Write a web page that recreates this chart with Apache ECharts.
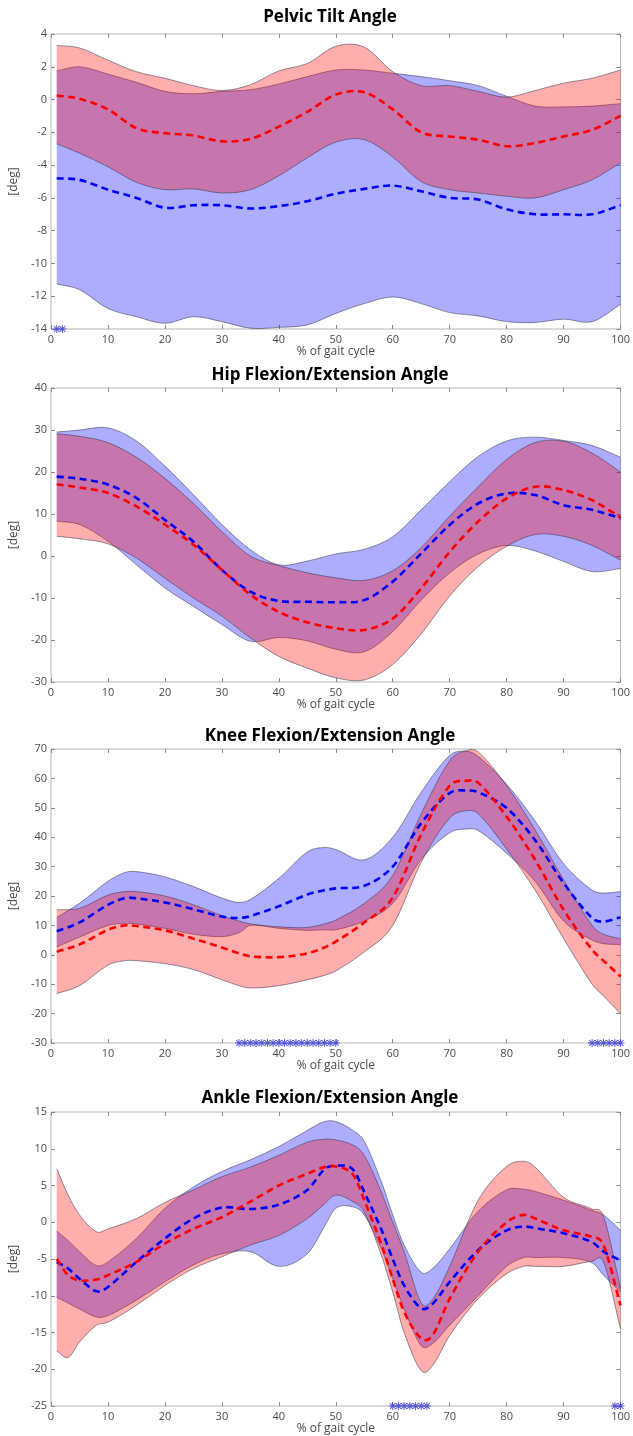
<!DOCTYPE html>
<html><head><meta charset="utf-8">
<script src="https://cdn.jsdelivr.net/npm/echarts@6/dist/echarts.min.js"></script>
<style>html,body{margin:0;padding:0;background:#fff}#c{width:633px;height:1436px}</style>
</head><body><div id="c"></div>
<script>
// ---------------- DATA ----------------
const gaitX = [1,5,10,15,20,25,30,35,40,45,50,55,60,65,70,75,80,85,90,95,100];

const pelvicBlueUpper = [1.75,2.0,1.55,1.05,0.5,0.35,0.5,0.6,0.95,1.4,1.8,1.8,1.6,1.4,1.15,0.85,0.2,-0.4,-0.45,-0.4,-0.25];
const pelvicBlueLower = [-11.25,-11.6,-12.75,-13.25,-13.65,-13.25,-13.55,-13.95,-13.9,-13.75,-13.05,-12.45,-12.05,-12.45,-13.0,-13.2,-13.55,-13.6,-13.4,-13.55,-12.5];
const pelvicBlueMean  = [-4.8,-4.9,-5.5,-6.0,-6.6,-6.45,-6.45,-6.65,-6.5,-6.2,-5.75,-5.45,-5.25,-5.6,-6.0,-6.1,-6.7,-7.0,-7.0,-7.0,-6.45];
const pelvicRedUpper  = [3.3,3.15,2.4,1.7,1.3,0.85,0.55,0.9,1.75,2.2,3.25,3.2,1.7,0.85,0.85,0.5,0.15,0.55,1.0,1.3,1.8];
const pelvicRedLower  = [-2.7,-3.27,-4.1,-5.05,-5.5,-5.45,-5.7,-5.5,-4.65,-3.55,-2.6,-2.45,-3.5,-5.0,-5.5,-5.7,-5.9,-6.0,-5.5,-4.9,-3.85];
const pelvicRedMean   = [0.25,0.05,-0.6,-1.75,-2.05,-2.2,-2.55,-2.4,-1.65,-0.75,0.3,0.45,-0.6,-2.0,-2.25,-2.45,-2.85,-2.65,-2.25,-1.85,-1.0];
const pelvicStars = [1,2];

const hipBlueUpper = [29.5,30.0,30.5,27.4,21.4,14.6,7.5,1.5,-2.1,-1.2,0.5,1.6,4.6,11.0,17.7,23.7,27.4,28.3,27.5,26.3,23.5];
const hipBlueLower = [8.3,7.5,3.5,-2.1,-7.6,-12.0,-16.3,-20.3,-19.4,-20.2,-22.2,-22.8,-18.0,-10.5,-4.0,0.5,2.5,1.2,-1.3,-3.7,-3.0];
const hipBlueMean  = [18.9,18.4,17.0,13.8,8.6,3.4,-3.3,-8.5,-10.7,-10.9,-11.0,-10.5,-6.1,0.6,7.4,12.5,14.9,14.5,12.1,11.0,9.0];
const hipRedUpper  = [29.1,28.5,27.0,23.5,18.5,12.5,5.8,0.0,-2.3,-4.0,-5.2,-5.8,-3.5,2.0,9.5,16.5,23.0,27.0,27.3,24.5,20.0];
const hipRedLower  = [4.7,4.1,2.9,-0.5,-5.3,-10.0,-14.3,-19.5,-23.9,-26.7,-29.0,-29.5,-25.8,-18.5,-9.5,-2.5,2.3,5.1,4.7,2.5,-1.0];
const hipRedMean   = [17.1,16.3,15.0,11.8,7.5,2.7,-3.3,-9.2,-13.3,-15.8,-17.2,-17.6,-14.9,-7.7,1.0,8.2,13.7,16.5,15.7,13.3,9.2];
const hipStars = [];

const kneeX = [1,5,10,13,15,20,25,30,33,35,40,45,48,50,55,60,65,70,73,75,80,85,90,95,97,100];
const kneeBlueUpper = [12.7,17.5,25.0,28.0,28.3,26.5,23.2,19.3,17.8,18.8,26.0,35.0,36.5,35.8,32.3,40.0,55.3,67.8,69.2,67.5,58.0,45.5,31.0,22.0,21.0,21.5];
const kneeBlueLower = [2.7,6.0,10.0,10.7,10.5,9.0,7.0,6.2,7.5,10.0,9.0,8.3,8.5,8.5,11.5,17.5,32.5,41.5,42.8,42.3,34.5,25.0,11.5,5.0,3.8,3.5];
const kneeBlueMean  = [8.0,11.0,17.0,19.3,19.2,17.8,15.5,13.0,12.5,13.2,16.5,20.5,22.0,22.6,23.5,30.0,44.8,55.0,55.9,55.3,49.9,39.0,24.4,12.5,11.3,12.8];
const kneeRedUpper  = [15.3,15.8,20.3,21.5,21.5,20.0,17.0,13.3,11.5,10.5,9.5,9.3,10.5,11.8,17.5,27.0,48.0,66.0,69.5,69.0,57.5,42.5,25.5,10.0,7.0,5.5];
const kneeRedLower  = [-13.2,-10.5,-3.5,-2.0,-2.0,-3.0,-5.0,-8.5,-10.5,-11.3,-10.5,-8.5,-7.0,-5.5,1.0,10.0,31.5,46.5,49.0,48.0,36.0,22.0,5.5,-10.0,-14.0,-20.0];
const kneeRedMean   = [1.0,3.5,8.5,10.0,9.8,8.3,5.5,2.5,0.5,-0.5,-0.8,0.5,2.5,4.5,11.0,19.5,41.0,57.5,59.2,58.5,47.0,32.3,15.3,1.7,-2.0,-7.4];
const kneeStars = [33,34,35,36,37,38,39,40,41,42,43,44,45,46,47,48,49,50,95,96,97,98,99,100];

const ankleX = [1,3,5,8,10,15,20,25,30,35,40,45,48,50,53,55,58,60,62,65,67,70,75,80,83,85,90,95,97,100];
const ankleBlueUpper = [-1.2,-2.5,-4.0,-5.9,-5.4,-2.2,1.9,4.8,6.9,8.5,10.3,12.5,13.7,13.7,12.5,11.0,5.5,1.0,-3.1,-6.8,-6.3,-3.6,1.5,4.4,4.5,4.2,3.0,1.6,1.0,-1.1];
const ankleBlueLower = [-10.2,-11.0,-11.8,-12.9,-12.7,-10.6,-8.1,-5.8,-4.3,-4.0,-6.0,-4.3,-0.6,1.9,2.1,1.0,-3.6,-7.7,-11.8,-16.8,-16.5,-14.0,-10.0,-6.0,-4.8,-4.8,-4.8,-5.5,-7.2,-9.5];
const ankleBlueMean  = [-5.4,-6.3,-7.7,-9.4,-8.8,-5.4,-2.2,0.5,2.0,1.8,2.4,4.4,7.2,7.7,7.2,4.1,-1.0,-5.0,-8.6,-11.7,-11.1,-8.1,-3.8,-1.1,-0.6,-0.8,-1.5,-2.7,-4.0,-5.2];
const ankleRedUpper  = [7.3,3.7,1.0,-1.3,-0.9,0.5,2.7,4.4,6.2,7.5,9.1,10.9,11.3,11.2,10.5,9.1,4.1,0.0,-4.0,-11.0,-10.5,-6.0,3.0,7.6,8.3,7.5,3.4,1.8,0.8,-9.0];
const ankleRedLower  = [-17.5,-18.4,-16.3,-14.0,-13.6,-11.3,-8.6,-6.3,-4.7,-3.1,-1.8,0.5,2.5,3.7,2.8,1.4,-4.5,-9.5,-15.0,-20.2,-19.5,-15.4,-10.4,-7.0,-6.0,-6.0,-6.0,-5.3,-5.4,-14.5];
const ankleRedMean   = [-5.0,-7.2,-7.9,-7.8,-7.2,-5.4,-2.9,-0.9,0.7,2.8,5.0,6.6,7.5,7.6,6.5,3.0,-3.0,-7.7,-12.2,-15.8,-15.4,-10.4,-4.0,0.0,1.0,0.5,-1.1,-2.0,-3.1,-11.3];
const ankleStars = [60,61,62,63,64,65,66,99,100];

const titles = ['Pelvic Tilt Angle','Hip Flexion/Extension Angle','Knee Flexion/Extension Angle','Ankle Flexion/Extension Angle'];
const yMins = [-14,-30,-30,-25];
const yMaxs = [4,40,70,15];
const yIntervals = [2,10,10,5];
const xTicks = 10;
const xLabel = '% of gait cycle';
const yLabel = '[deg]';

// ---------------- LAYOUT / STYLE ----------------
const panels = [
  {x:gaitX, bu:pelvicBlueUpper, bl:pelvicBlueLower, bm:pelvicBlueMean, ru:pelvicRedUpper, rl:pelvicRedLower, rm:pelvicRedMean, stars:pelvicStars},
  {x:gaitX, bu:hipBlueUpper, bl:hipBlueLower, bm:hipBlueMean, ru:hipRedUpper, rl:hipRedLower, rm:hipRedMean, stars:hipStars},
  {x:kneeX, bu:kneeBlueUpper, bl:kneeBlueLower, bm:kneeBlueMean, ru:kneeRedUpper, rl:kneeRedLower, rm:kneeRedMean, stars:kneeStars},
  {x:ankleX, bu:ankleBlueUpper, bl:ankleBlueLower, bm:ankleBlueMean, ru:ankleRedUpper, rl:ankleRedLower, rm:ankleRedMean, stars:ankleStars}
];
const gridTops = [34, 388, 749, 1112];
const gridHeights = [295, 294, 294, 294];
const titleTops = [4, 362, 723, 1085];
const FONT = '"Open Sans", Lato, "DejaVu Sans", sans-serif';
const BLUE_FILL = 'rgba(0,0,255,0.32)';
const RED_FILL = 'rgba(255,0,0,0.32)';
const EDGE_COLOR = 'rgba(50,50,70,0.75)';
const STAR = 'path://M-1 -0.12L1 -0.12L1 0.12L-1 0.12Z M-0.12 -1L0.12 -1L0.12 1L-0.12 1Z M-0.792 -0.622L-0.622 -0.792L0.792 0.622L0.622 0.792Z M-0.792 0.622L0.622 -0.792L0.792 -0.622L-0.622 0.792Z';

// smooth cubic (Hermite, x-monotone) path segments through pixel points
function curveSegs(pts) {
  const n = pts.length, m = [];
  for (let i = 0; i < n; i++) {
    const a = pts[Math.max(0, i - 1)], b = pts[Math.min(n - 1, i + 1)];
    m.push((b[1] - a[1]) / (b[0] - a[0]));
  }
  let d = '';
  for (let i = 0; i < n - 1; i++) {
    const h = pts[i + 1][0] - pts[i][0];
    d += ' C' + (pts[i][0] + h / 3) + ' ' + (pts[i][1] + m[i] * h / 3) + ' ' +
         (pts[i + 1][0] - h / 3) + ' ' + (pts[i + 1][1] - m[i + 1] * h / 3) + ' ' +
         pts[i + 1][0] + ' ' + pts[i + 1][1];
  }
  return d;
}
function linePath(pts) { return 'M' + pts[0][0] + ' ' + pts[0][1] + curveSegs(pts); }
function bandPath(up, lo) {
  const rev = lo.slice().reverse();
  return linePath(up) + ' L' + rev[0][0] + ' ' + rev[0][1] + curveSegs(rev) + ' Z';
}

const option = {animation:false, backgroundColor:'#fff', title:[], grid:[], xAxis:[], yAxis:[], series:[]};

panels.forEach((p, i) => {
  option.title.push({text:titles[i], left:325, top:titleTops[i], textAlign:'center',
    textStyle:{fontFamily:FONT, fontSize:17, fontWeight:'bold', color:'#000'}});
  option.grid.push({left:39, right:9, top:gridTops[i], height:gridHeights[i], show:true,
    borderColor:'#b5b5b5', borderWidth:1});
  const tick = {show:true, inside:true, length:4, lineStyle:{color:'#8a8a8a', width:1}};
  const common = {gridIndex:i, splitLine:{show:false}, axisLine:{show:false, onZero:false}, axisTick:tick};
  option.xAxis.push(Object.assign({}, common, {type:'value', position:'bottom', min:0, max:100, interval:xTicks,
    axisLabel:{color:'#4a4a4a', fontSize:11, fontFamily:FONT, margin:5},
    name:xLabel, nameLocation:'middle', nameGap:17, nameTextStyle:{color:'#4a4a4a', fontSize:12, fontFamily:FONT}}));
  option.xAxis.push(Object.assign({}, common, {type:'value', position:'top', min:0, max:100, interval:xTicks, axisLabel:{show:false}}));
  option.yAxis.push(Object.assign({}, common, {type:'value', position:'left', min:yMins[i], max:yMaxs[i], interval:yIntervals[i],
    axisLabel:{color:'#4a4a4a', fontSize:11, fontFamily:FONT, margin:4},
    name:yLabel, nameLocation:'middle', nameGap:22, nameRotate:90, nameTextStyle:{color:'#4a4a4a', fontSize:12, fontFamily:FONT}}));
  option.yAxis.push(Object.assign({}, common, {type:'value', position:'right', min:yMins[i], max:yMaxs[i], interval:yIntervals[i], axisLabel:{show:false}}));
  const xi = 2*i, yi = 2*i;

  option.series.push({
    type:'custom', xAxisIndex:xi, yAxisIndex:yi, silent:true, clip:true,
    data:p.x.map((x,k)=>[x, p.bm[k]]),
    renderItem:(params, api) => {
      if (params.dataIndex !== 0) return null;
      const P = arr => p.x.map((x,k) => api.coord([x, arr[k]]));
      const bu = P(p.bu), bl = P(p.bl), ru = P(p.ru), rl = P(p.rl), bm = P(p.bm), rm = P(p.rm);
      const fill = (d, c) => ({type:'path', shape:{pathData:d}, style:{fill:c, stroke:null}});
      const stroke = (d, c, w, dash) => ({type:'path', shape:{pathData:d}, style:{fill:null, stroke:c, lineWidth:w, lineDash:dash || null}});
      return {type:'group', children:[
        fill(bandPath(bu, bl), BLUE_FILL),
        stroke(linePath(bu), EDGE_COLOR, 0.7), stroke(linePath(bl), EDGE_COLOR, 0.7),
        fill(bandPath(ru, rl), RED_FILL),
        stroke(linePath(ru), EDGE_COLOR, 0.7), stroke(linePath(rl), EDGE_COLOR, 0.7),
        stroke(linePath(bm), '#0000ff', 2.6, [7,4.5]),
        stroke(linePath(rm), '#ff0000', 2.6, [7,4.5])
      ]};
    }
  });
  if (p.stars.length) {
    option.series.push({type:'scatter', xAxisIndex:xi, yAxisIndex:yi, clip:false, silent:true, symbol:STAR, symbolSize:8,
      itemStyle:{color:'#3b3bd6', opacity:0.85}, data:p.stars.map(x=>[x, yMins[i]])});
  }
});

const chart = echarts.init(document.getElementById('c'), null, {renderer:'canvas'});
chart.setOption(option);
</script></body></html>
